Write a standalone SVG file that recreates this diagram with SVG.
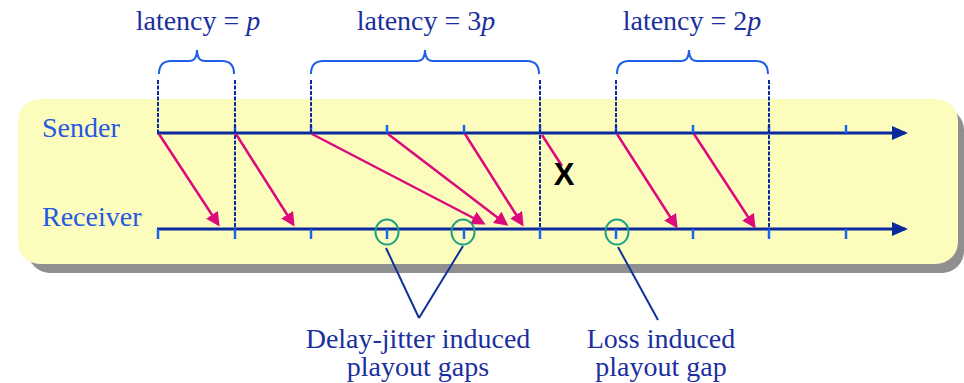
<svg xmlns="http://www.w3.org/2000/svg" width="964" height="383" viewBox="0 0 964 383">
<style>
.lbl{font-size:28px;fill:#1B2F9E}
.role{font-size:28px;fill:#2458E4}
.axis{stroke:#0A2A9E;stroke-width:3;fill:none}
.tick{stroke:#1766F2;stroke-width:2.5;fill:none}
.dot{stroke:#0A2A9E;stroke-width:2;stroke-dasharray:4 1.5;fill:none}
.brace{stroke:#1E5FEA;stroke-width:2;fill:none}
.pkt{stroke:#DC0A7C;stroke-width:2.5;fill:none}
.gap{stroke:#18A086;stroke-width:2;fill:none}
.call{stroke:#12309A;stroke-width:2;fill:none}
</style>
<defs>
<marker id="pa" viewBox="0 0 14 14" markerWidth="14" markerHeight="14" refX="11" refY="7" markerUnits="userSpaceOnUse" orient="auto">
<path d="M0,0 L14,7 L0,14 z" fill="#DC0A7C"/>
</marker>
<marker id="aa" viewBox="0 0 16 14" markerWidth="16" markerHeight="14" refX="13" refY="7" markerUnits="userSpaceOnUse" orient="auto">
<path d="M0,0 L16,7 L0,14 z" fill="#0A2A9E"/>
</marker>
</defs>

<g id="panel">
<rect x="28" y="108" width="936" height="165" rx="22" fill="#8F8F8F"/>
<rect x="18" y="99" width="940" height="165" rx="22" fill="#FCFCBC"/>
</g>

<g id="latency-labels" font-family="Liberation Serif, serif">
<text class="lbl" x="198" y="30" text-anchor="middle">latency = <tspan font-style="italic">p</tspan></text>
<text class="lbl" x="426" y="30" text-anchor="middle">latency = 3<tspan font-style="italic">p</tspan></text>
<text class="lbl" x="692" y="30" text-anchor="middle">latency = 2<tspan font-style="italic">p</tspan></text>
</g>

<g id="braces">
<path class="brace" d="M159,74 Q159,61 171,61 L189,61 Q197,61 197,50 Q197,61 205,61 L222,61 Q234,61 234,74"/>
<path class="brace" d="M311,74 Q311,61 323,61 L417,61 Q425,61 425,50 Q425,61 433,61 L527,61 Q539,61 539,74"/>
<path class="brace" d="M617,74 Q617,61 629,61 L681,61 Q689,61 689,50 Q689,61 697,61 L756,61 Q768,61 768,74"/>
</g>

<g id="sender" font-family="Liberation Serif, serif">
<text class="role" x="42" y="137">Sender</text>
<line class="axis" x1="157" y1="133" x2="905" y2="133" marker-end="url(#aa)"/>
<path class="tick" d="M235,125V133 M311,125V133 M387,125V133 M464,125V133 M540,125V133 M616,125V133 M693,125V133 M769,125V133 M846,125V133"/>
</g>

<g id="receiver" font-family="Liberation Serif, serif">
<text class="role" x="42" y="226">Receiver</text>
<line class="axis" x1="157" y1="229" x2="905" y2="229" marker-end="url(#aa)"/>
<path class="tick" d="M158,229V239 M235,229V239 M311,229V239 M387,229V239 M464,229V239 M540,229V239 M616,229V239 M693,229V239 M769,229V239 M846,229V239"/>
</g>

<g id="latency-marks">
<path class="dot" d="M158,80V133 M235,80V229 M311,80V133 M540,80V229 M616,80V133 M769,80V229"/>
</g>

<g id="connectors">
<line class="pkt" x1="159" y1="134" x2="218" y2="224" marker-end="url(#pa)"/>
<line class="pkt" x1="236" y1="134" x2="293" y2="224" marker-end="url(#pa)"/>
<line class="pkt" x1="312" y1="134" x2="483" y2="223" marker-end="url(#pa)"/>
<line class="pkt" x1="388" y1="134" x2="506" y2="224" marker-end="url(#pa)"/>
<line class="pkt" x1="465" y1="134" x2="522" y2="224" marker-end="url(#pa)"/>
<line class="pkt" x1="542" y1="135" x2="562" y2="166"/>
<line class="pkt" x1="617" y1="134" x2="676" y2="226" marker-end="url(#pa)"/>
<line class="pkt" x1="694" y1="134" x2="754" y2="226" marker-end="url(#pa)"/>
<line class="call" x1="386" y1="248" x2="419" y2="318"/>
<line class="call" x1="463" y1="246" x2="419" y2="318"/>
<line class="call" x1="618" y1="247" x2="658" y2="320"/>
</g>

<g id="loss-mark">
<text x="564" y="185" text-anchor="middle" font-family="Liberation Sans, Arial, sans-serif" font-weight="bold" font-size="31" fill="#000">X</text>
</g>

<g id="gap-markers">
<ellipse class="gap" cx="387" cy="232" rx="11.5" ry="12.5"/>
<ellipse class="gap" cx="463" cy="232" rx="11.5" ry="12.5"/>
<ellipse class="gap" cx="617" cy="232" rx="11.5" ry="12.5"/>
</g>

<g id="jitter-label" font-family="Liberation Serif, serif">
<text class="lbl" x="418" y="348" text-anchor="middle">Delay-jitter induced</text>
<text class="lbl" x="418" y="376" text-anchor="middle">playout gaps</text>
</g>

<g id="loss-label" font-family="Liberation Serif, serif">
<text class="lbl" x="661" y="348" text-anchor="middle">Loss induced</text>
<text class="lbl" x="661" y="376" text-anchor="middle">playout gap</text>
</g>
</svg>
